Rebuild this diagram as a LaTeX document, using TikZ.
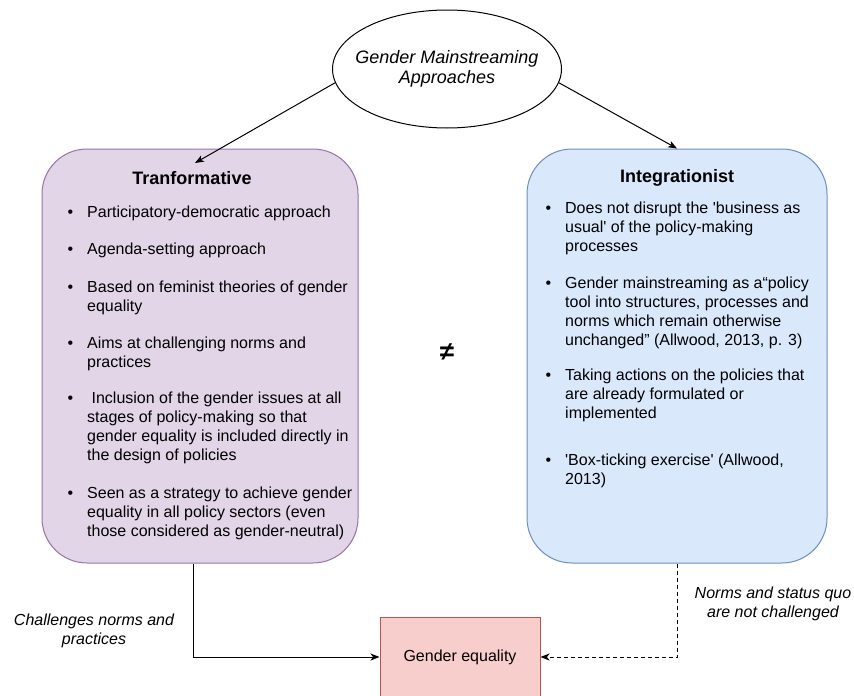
\documentclass[tikz,border=0pt]{standalone}
\usepackage{fontspec}
\setmainfont{Liberation Sans}
\usetikzlibrary{arrows.meta,shapes.geometric}
\definecolor{purpfill}{HTML}{E1D5E7}
\definecolor{purpline}{HTML}{9673A6}
\definecolor{bluefill}{HTML}{DAE8FC}
\definecolor{blueline}{HTML}{6C8EBF}
\definecolor{redfill}{HTML}{F8CECC}
\definecolor{redline}{HTML}{B85450}
\newcommand{\bul}{\llap{\textbullet\hspace{14pt}}}
\newcommand{\sq}{\textquotesingle}
\begin{document}
\begin{tikzpicture}[x=1pt,y=-1pt,
  panel/.style={rounded corners=45pt, line width=1pt, inner sep=0pt},
  titletext/.style={font=\fontsize{18}{21}\selectfont\bfseries, inner sep=0pt},
  itemtext/.style={anchor=north west, inner sep=0pt, align=left,
    font=\fontsize{16}{19}\selectfont},
  note/.style={align=center, inner sep=0pt, font=\fontsize{16}{18.5}\selectfont\itshape},
  conn/.style={line width=1pt, -{Stealth[length=9pt,width=7pt,inset=2.5pt]}}]
\useasboundingbox (0,0) rectangle (854,696);

% heading ellipse
\node[ellipse, draw, line width=1pt, minimum width=229pt, minimum height=118pt,
  inner xsep=-30pt, inner ysep=0pt, align=center, font=\fontsize{18}{20.5}\selectfont\itshape]
  (gm) at (447,69) {Gender Mainstreaming\\Approaches};

% the two approaches
\node[panel, draw=purpline, fill=purpfill, minimum width=316pt, minimum height=414pt]
  (tr) at (200,356) {};
\node[panel, draw=blueline, fill=bluefill, minimum width=300pt, minimum height=414pt]
  (ig) at (677,356) {};

% outcome
\node[draw=redline, fill=redfill, line width=1pt, minimum width=160pt, minimum height=80pt,
  inner sep=0pt, font=\fontsize{16}{19}\selectfont] (ge) at (460,657) {Gender equality};

% titles
\node[titletext] (trtitle) at (192,178) {Tranformative};
\node[titletext] (igtitle) at (677,178) {Integrationist};

% transformative points
\node[itemtext] (t1) at (87,204) {\strut\bul Participatory-democratic approach};
\node[itemtext] (t2) at (87,241) {\strut\bul Agenda-setting approach};
\node[itemtext] (t3) at (87,279) {\strut\bul Based on feminist theories of gender\\equality};
\node[itemtext] (t4) at (87,335) {\strut\bul Aims at challenging norms and\\practices};
\node[itemtext] (t5) at (87,390) {\strut\bul\ Inclusion of the gender issues at all\\stages of policy-making so that\\gender equality is included directly in\\the design of policies};
\node[itemtext] (t6) at (87,485) {\strut\bul Seen as a strategy to achieve gender\\equality in all policy sectors (even\\those considered as gender-neutral)};

% integrationist points
\node[itemtext] (i1) at (565,200) {\strut\bul Does not disrupt the \sq business as\\usual\sq\ of the policy-making\\processes};
\node[itemtext] (i2) at (565,275) {\strut\bul Gender mainstreaming as a“policy\\tool into structures, processes and\\norms which remain otherwise\\unchanged" (Allwood, 2013, p. 3)};
\node[itemtext] (i3) at (565,367) {\strut\bul Taking actions on the policies that\\are already formulated or\\implemented};
\node[itemtext] (i4) at (565,452) {\strut\bul \sq Box-ticking exercise\sq\ (Allwood,\\2013)};

% not-equal sign between the panels
\node[inner sep=0pt, font=\fontsize{26}{26}\selectfont\bfseries] (neq) at (447,352) {≠};

% edge labels
\node[note] (lblt) at (94,631) {Challenges norms and\\practices};
\node[note] (lbli) at (773,604) {Norms and status quo\\are not challenged};

% connectors
\coordinate (trin) at (195,163);
\draw[conn] (gm.187) -- (trin);
\draw[conn] (gm.-7) -- (ig.north);
\draw[conn] ([xshift=-7pt]tr.south) |- (ge.west);
\draw[conn, dashed, dash pattern=on 4pt off 3pt] (ig.south) |- (ge.east);
\end{tikzpicture}
\end{document}
